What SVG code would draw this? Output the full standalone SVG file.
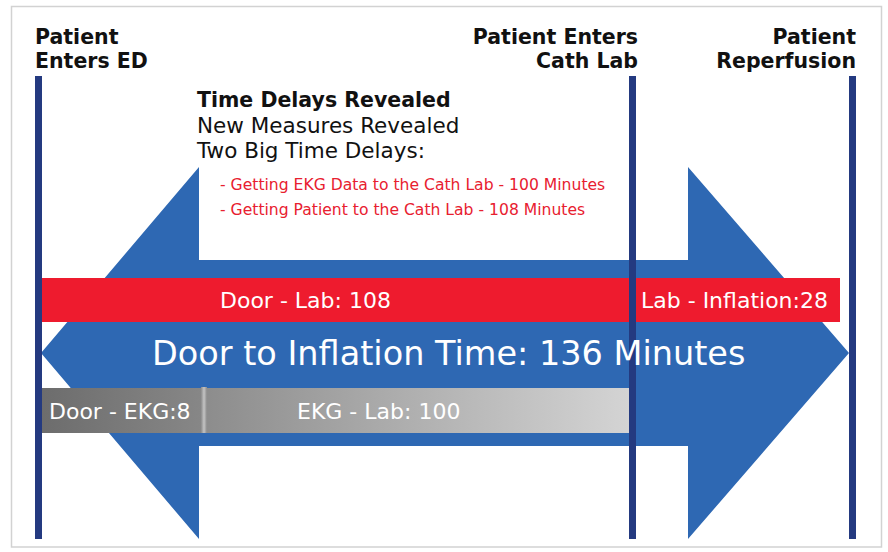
<svg xmlns="http://www.w3.org/2000/svg" width="888" height="552" viewBox="0 0 888 552">
  <defs>
    <style>
      .hdr { font-family: "DejaVu Sans", Verdana, sans-serif; font-weight: bold; font-size: 20.5px; fill: #111111; }
      .sub { font-family: "DejaVu Sans", Verdana, sans-serif; font-size: 21.5px; fill: #111111; }
      .item { font-family: "DejaVu Sans", Verdana, sans-serif; font-size: 15.6px; fill: #e8202f; }
      .lbl { font-family: "DejaVu Sans", Verdana, sans-serif; font-size: 22px; fill: #ffffff; }
      .big { font-family: "DejaVu Sans", Verdana, sans-serif; font-size: 33.5px; fill: #ffffff; }
      .post { fill: #243a80; }
    </style>
    <linearGradient id="gDoorEkg" x1="0" y1="0" x2="1" y2="0">
      <stop offset="0" stop-color="#6c6c6c"/>
      <stop offset="1" stop-color="#878787"/>
    </linearGradient>
    <linearGradient id="gEkgLab" x1="0" y1="0" x2="1" y2="0">
      <stop offset="0" stop-color="#8c8c8c"/>
      <stop offset="1" stop-color="#d4d4d4"/>
    </linearGradient>
    <linearGradient id="gSep" x1="0" y1="0" x2="1" y2="0">
      <stop offset="0" stop-color="#8a8a8a"/>
      <stop offset="0.5" stop-color="#c4c4c4"/>
      <stop offset="1" stop-color="#8a8a8a"/>
    </linearGradient>
  </defs>

  <rect x="0" y="0" width="888" height="552" fill="#ffffff"/>
  <rect x="11.5" y="6.5" width="870" height="540.5" fill="none" stroke="#d2d2d2" stroke-width="1.5"/>

  <!-- double-headed timeline arrow -->
  <g id="connectors">
    <polygon fill="#2e68b3" points="41,353 199,167 199,260 688,260 688,167 849,353 688,539 688,446 199,446 199,539"/>
  </g>

  <!-- interval bars -->
  <g id="door-lab">
    <rect x="38" y="278" width="802" height="44" fill="#ee1b2e"/>
  </g>
  <g id="door-ekg">
    <rect x="38" y="388" width="165" height="45" fill="url(#gDoorEkg)"/>
  </g>
  <g id="ekg-lab">
    <rect x="203" y="388" width="426" height="45" fill="url(#gEkgLab)"/>
    <rect x="201" y="387" width="6" height="46" fill="url(#gSep)"/>
  </g>

  <!-- milestone posts -->
  <g id="milestone-ed">
    <rect class="post" x="35" y="76" width="7" height="463"/>
    <text class="hdr" x="35" y="44">Patient</text>
    <text class="hdr" x="35" y="68">Enters ED</text>
  </g>
  <g id="milestone-cath-lab">
    <rect class="post" x="629" y="76" width="7" height="463"/>
    <text class="hdr" x="638" y="44" text-anchor="end">Patient Enters</text>
    <text class="hdr" x="638" y="68" text-anchor="end">Cath Lab</text>
  </g>
  <g id="milestone-reperfusion">
    <rect class="post" x="849" y="76" width="7" height="463"/>
    <text class="hdr" x="856" y="44" text-anchor="end">Patient</text>
    <text class="hdr" x="856" y="68" text-anchor="end">Reperfusion</text>
  </g>

  <!-- notes -->
  <g id="notes">
    <text class="hdr" x="197" y="107">Time Delays Revealed</text>
    <text class="sub" x="197" y="133">New Measures Revealed</text>
    <text class="sub" x="197" y="158">Two Big Time Delays:</text>
    <text class="item" x="220" y="190">- Getting EKG Data to the Cath Lab - 100 Minutes</text>
    <text class="item" x="220" y="215">- Getting Patient to the Cath Lab - 108 Minutes</text>
  </g>

  <!-- bar labels -->
  <g id="labels">
    <text class="lbl" x="220" y="308">Door - Lab: 108</text>
    <text class="lbl" x="641" y="308">Lab - Inflation:28</text>
    <text class="big" x="152" y="365">Door to Inflation Time: 136 Minutes</text>
    <text class="lbl" x="49" y="419">Door - EKG:8</text>
    <text class="lbl" x="297" y="419">EKG - Lab: 100</text>
  </g>
</svg>
